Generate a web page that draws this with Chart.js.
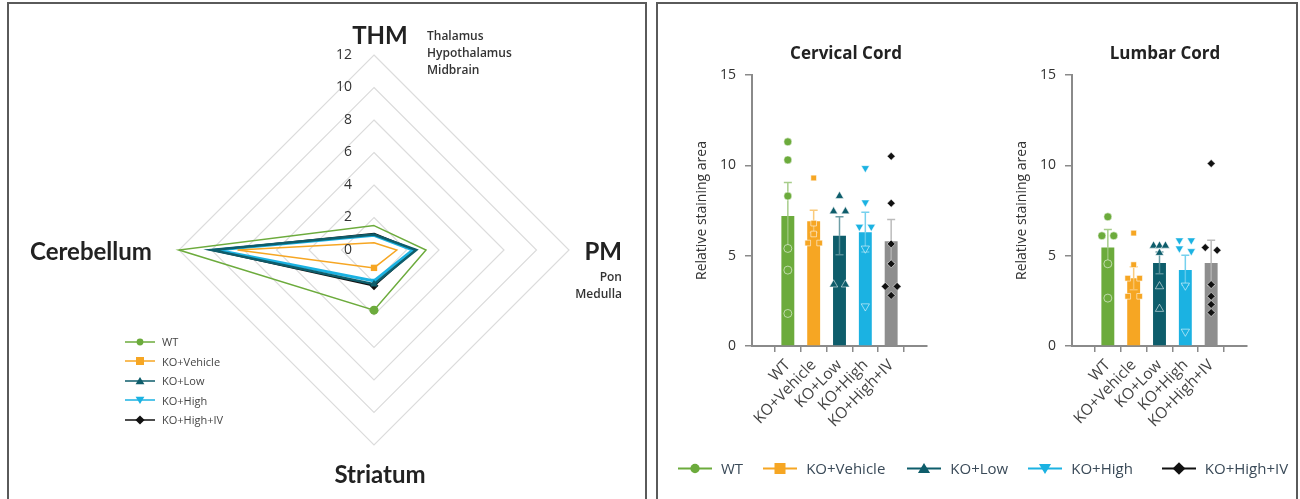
<!DOCTYPE html>
<html>
<head>
<meta charset="utf-8">
<script src="https://cdn.jsdelivr.net/npm/chart.js@4.4.1/dist/chart.umd.min.js"></script>
<style>
  body { margin: 0; width: 1300px; height: 499px; overflow: hidden; background: #fff; position: relative; font-family: 'Open Sans', sans-serif; }
  .panel { position: absolute; top: 2px; height: 530px; border: 2px solid #5a5a5a; box-sizing: border-box; }
  canvas { position: absolute; }
  .lbl { position: absolute; white-space: nowrap; color: #222; }
  .big { font-family: Lato, sans-serif; font-weight: 700; font-size: 24px; }
  .sub { font-family: 'Open Sans', sans-serif; font-weight: 600; font-size: 12px; line-height: 17px; color: #333; }
  .ttl { font-family: 'Open Sans', sans-serif; font-weight: 700; font-size: 17px; }
  .legend { position: absolute; display: flex; }
  .legend .item { display: flex; align-items: center; }
  .legend svg { display: block; }
</style>
</head>
<body>
<div class="panel" style="left:7px; width:640px;"></div>
<div class="panel" style="left:656px; width:642px;"></div>

<canvas id="radar" width="650" height="499" style="left:0; top:0;"></canvas>
<canvas id="cervical" width="260" height="400" style="left:680px; top:40px;"></canvas>
<canvas id="lumbar" width="260" height="400" style="left:1000px; top:40px;"></canvas>

<div class="lbl big" style="left:380px; top:34px; transform:translate(-50%,-50%);">THM</div>
<div class="lbl sub" style="left:427px; top:27px;">Thalamus<br>Hypothalamus<br>Midbrain</div>
<div class="lbl big" style="left:91px; top:250px; transform:translate(-50%,-50%);">Cerebellum</div>
<div class="lbl big" style="left:622px; top:250px; transform:translate(-100%,-50%);">PM</div>
<div class="lbl sub" style="left:622px; top:268px; transform:translateX(-100%); text-align:right;">Pon<br>Medulla</div>
<div class="lbl big" style="left:380px; top:473px; transform:translate(-50%,-50%);">Striatum</div>

<div class="lbl ttl" style="left:846px; top:52px; transform:translate(-50%,-50%);">Cervical Cord</div>
<div class="lbl ttl" style="left:1165px; top:52px; transform:translate(-50%,-50%);">Lumbar Cord</div>

<div id="radarLegend" class="legend" style="left:125px; top:332px; flex-direction:column;"></div>
<div id="barLegend" class="legend" style="left:678px; top:458px; flex-direction:row;"></div>

<script>
// groups and styles
const groups = ['WT', 'KO+Vehicle', 'KO+Low', 'KO+High', 'KO+High+IV'];
const colors = ['#6cab3c', '#f6a623', '#0e5d6b', '#1bb2e2', '#111111'];
const barColors = ['#6cab3c', '#f6a623', '#0e5d6b', '#1bb2e2', '#8e8e8e'];
const markers = ['circle', 'rect', 'triangle', 'triangle', 'rectRot'];
const markerRot = [0, 0, 0, 180, 0];

// radar: THM, PM, Striatum, Cerebellum
const regions = ['THM', 'PM', 'Striatum', 'Cerebellum'];
const radarWT = [1.5, 3.2, 3.7, 12];
const radarVehicle = [0.45, 1.4, 1.1, 8.4];
const radarLow = [0.95, 2.6, 2.1, 10];
const radarHigh = [0.9, 2.4, 1.9, 9.7];
const radarHighIV = [1.0, 2.5, 2.2, 9.9];
const radarTicks = [0, 2, 4, 6, 8, 10, 12];

// cervical cord
const cervicalMean = [7.2, 6.9, 6.1, 6.3, 5.8];
const cervicalSem = [1.85, 0.62, 1.05, 1.1, 1.2];
const cervicalWT = [11.3, 10.3, 8.3, 5.4, 4.2, 1.8];
const cervicalVehicle = [9.3, 6.8, 6.2, 5.7, 5.7];
const cervicalLow = [8.3, 7.45, 7.45, 3.4, 3.4];
const cervicalHigh = [9.85, 7.95, 6.6, 6.6, 5.4, 2.2];
const cervicalHighIV = [10.5, 7.9, 5.65, 4.55, 3.3, 3.3, 2.8];

// lumbar cord
const lumbarMean = [5.45, 3.75, 4.6, 4.2, 4.6];
const lumbarSem = [1.0, 0.64, 0.6, 0.82, 1.25];
const lumbarWT = [7.15, 6.1, 6.1, 4.55, 2.65];
const lumbarVehicle = [6.25, 4.5, 3.75, 3.75, 2.75, 2.75];
const lumbarLow = [5.55, 5.55, 5.55, 5.15, 3.3, 2.05];
const lumbarHigh = [5.85, 5.85, 5.4, 5.25, 3.35, 0.8];
const lumbarHighIV = [10.1, 5.45, 5.3, 3.4, 2.75, 2.3, 1.85];

const barTicks = [0, 5, 10, 15];

// spread points that sit at about the same height (prism-like scatter)
function swarm(values, center) {
  const sorted = values.slice().sort((a, b) => b - a);
  const clusters = [];
  sorted.forEach(v => {
    const last = clusters[clusters.length - 1];
    if (last && last[last.length - 1] - v < 0.38) last.push(v);
    else clusters.push([v]);
  });
  const pts = [];
  clusters.forEach(c => c.forEach((v, i) => {
    const dx = c.length === 1 ? 0 : -0.23 + 0.46 * i / (c.length - 1);
    pts.push({ x: center + dx, y: v });
  }));
  return pts;
}

const radarTickLabels = {
  id: 'radarTickLabels',
  afterDraw(chart) {
    const r = chart.scales.r, ctx = chart.ctx;
    ctx.save();
    ctx.font = '14px "Open Sans"';
    ctx.fillStyle = '#333';
    ctx.textAlign = 'right';
    ctx.textBaseline = 'middle';
    r.ticks.forEach(t => {
      const p = r.getPointPositionForValue(0, t.value);
      ctx.fillText(String(t.value), p.x - 22, p.y);
    });
    ctx.restore();
  }
};

const errorBars = {
  id: 'errorBars',
  afterDatasetDraw(chart, args, opts) {
    if (args.meta.type !== 'bar') return;
    const ds = chart.data.datasets[args.index];
    const y = chart.scales.y, ctx = chart.ctx;
    args.meta.data.forEach((bar, i) => {
      const top = y.getPixelForValue(ds.data[i].y + opts.sems[i]);
      const low = y.getPixelForValue(ds.data[i].y - opts.sems[i]);
      ctx.save();
      ctx.lineWidth = 1.5;
      ctx.strokeStyle = barColors[i];
      ctx.globalAlpha = 0.6;
      ctx.beginPath();
      ctx.moveTo(bar.x, bar.y); ctx.lineTo(bar.x, top);
      ctx.moveTo(bar.x - 4, top); ctx.lineTo(bar.x + 4, top);
      ctx.stroke();
      ctx.strokeStyle = '#fff';
      ctx.globalAlpha = 0.3;
      ctx.beginPath();
      ctx.moveTo(bar.x, bar.y); ctx.lineTo(bar.x, low);
      ctx.moveTo(bar.x - 4, low); ctx.lineTo(bar.x + 4, low);
      ctx.stroke();
      ctx.restore();
    });
  }
};

// Radar
const radarSeries = [radarWT, radarVehicle, radarLow, radarHigh, radarHighIV];
const radarWidths = [1.5, 1.5, 2.5, 3, 2];
new Chart(document.getElementById('radar'), {
  type: 'radar',
  data: {
    labels: regions,
    datasets: radarSeries.map((vals, i) => ({
      label: groups[i],
      data: vals,
      borderColor: colors[i],
      backgroundColor: colors[i],
      borderWidth: radarWidths[i],
      fill: false,
      pointStyle: markers[i],
      pointRotation: markerRot[i],
      pointBackgroundColor: colors[i],
      pointBorderWidth: 0,
      pointRadius: ctx => ctx.dataIndex === 2 ? 4.5 : 0
    }))
  },
  options: {
    responsive: false,
    animation: false,
    layout: { padding: { left: 179, right: 81, top: 55, bottom: 54 } },
    plugins: { legend: { display: false }, tooltip: { enabled: false } },
    scales: {
      r: {
        min: radarTicks[0],
        max: radarTicks[radarTicks.length - 1],
        ticks: { display: false, stepSize: radarTicks[1] - radarTicks[0] },
        grid: { circular: false, color: '#dcdcdc', lineWidth: 1.2 },
        angleLines: { display: false },
        pointLabels: { display: false }
      }
    }
  },
  plugins: [radarTickLabels]
});

function makeBarChart(id, means, sems, points) {
  new Chart(document.getElementById(id), {
    type: 'bar',
    data: {
      datasets: [
        {
          type: 'bar',
          data: means.map((m, i) => ({ x: i, y: m })),
          backgroundColor: barColors,
          barPercentage: 0.5,
          categoryPercentage: 1,
          order: 2
        },
        ...points.map((vals, i) => ({
          type: 'scatter',
          data: swarm(vals, i),
          pointStyle: markers[i],
          pointRotation: markerRot[i],
          pointBackgroundColor: colors[i],
          pointBorderColor: 'rgba(255,255,255,0.55)',
          pointBorderWidth: 1,
          pointRadius: (i === 2 || i === 3) ? 4.8 : 4,
          order: 1
        }))
      ]
    },
    options: {
      responsive: false,
      animation: false,
      layout: { padding: { top: 35, right: 13, left: 0, bottom: 0 } },
      plugins: {
        legend: { display: false },
        tooltip: { enabled: false },
        errorBars: { sems: sems }
      },
      scales: {
        x: {
          type: 'linear',
          min: -0.71,
          max: groups.length - 1 + 0.71,
          // one tick per group, at the bar centres
          afterBuildTicks: s => { s.ticks = groups.map((g, i) => ({ value: i })); },
          afterFit: s => { s.height = 94; },
          ticks: {
            autoSkip: false,
            minRotation: 46,
            maxRotation: 46,
            padding: 4,
            color: '#444',
            font: { family: 'Open Sans', size: 15.5 },
            callback: v => groups[v]
          },
          grid: { drawOnChartArea: false, drawTicks: true, tickLength: 6, color: '#8a8a8a', lineWidth: 1.5 },
          border: { color: '#8a8a8a', width: 2 }
        },
        y: {
          min: barTicks[0],
          max: barTicks[barTicks.length - 1],
          afterFit: s => { s.width = 72; },
          ticks: {
            stepSize: barTicks[1] - barTicks[0],
            padding: 9,
            color: '#333',
            font: { family: 'Open Sans', size: 14 }
          },
          grid: { drawOnChartArea: false, drawTicks: true, tickLength: 7, color: '#8a8a8a', lineWidth: 1.5 },
          border: { color: '#8a8a8a', width: 2 },
          title: {
            display: true,
            text: 'Relative staining area',
            color: '#333',
            font: { family: 'Open Sans', size: 14 },
            padding: { top: 14, bottom: 0 }
          }
        }
      }
    },
    plugins: [errorBars]
  });
}

makeBarChart('cervical', cervicalMean, cervicalSem,
  [cervicalWT, cervicalVehicle, cervicalLow, cervicalHigh, cervicalHighIV]);
makeBarChart('lumbar', lumbarMean, lumbarSem,
  [lumbarWT, lumbarVehicle, lumbarLow, lumbarHigh, lumbarHighIV]);

// legends (line + marker, like the figure)
function markerSvg(i, w, size, lw) {
  const h = size + 4, cx = w / 2, cy = h / 2, r = size / 2;
  let shape;
  if (markers[i] === 'circle') shape = `<circle cx="${cx}" cy="${cy}" r="${r * 0.85}" fill="${colors[i]}"/>`;
  else if (markers[i] === 'rect') shape = `<rect x="${cx - r}" y="${cy - r}" width="${2 * r}" height="${2 * r}" fill="${colors[i]}"/>`;
  else if (markers[i] === 'rectRot') shape = `<polygon points="${cx},${cy - r * 1.15} ${cx + r * 1.15},${cy} ${cx},${cy + r * 1.15} ${cx - r * 1.15},${cy}" fill="${colors[i]}"/>`;
  else {
    const s = markerRot[i] === 180 ? -1 : 1;
    shape = `<polygon points="${cx},${cy - s * r} ${cx + r * 1.1},${cy + s * r * 0.8} ${cx - r * 1.1},${cy + s * r * 0.8}" fill="${colors[i]}"/>`;
  }
  return `<svg width="${w}" height="${h}"><line x1="0" y1="${cy}" x2="${w}" y2="${cy}" stroke="${colors[i]}" stroke-width="${lw}"/>${shape}</svg>`;
}

document.getElementById('radarLegend').innerHTML = groups.map((g, i) =>
  `<div class="item" style="height:19.5px;">${markerSvg(i, 30, 8, 1.5)}<span style="margin-left:7px; font-size:11px; color:#444;">${g}</span></div>`
).join('');

const legendGaps = [20, 22, 20, 29, 0];
document.getElementById('barLegend').innerHTML = groups.map((g, i) =>
  `<div class="item" style="height:20px; margin-right:${legendGaps[i]}px;">${markerSvg(i, 34, 11, 2.2)}<span style="margin-left:9px; font-size:15px; color:#3a4a58;">${g}</span></div>`
).join('');
</script>
</body>
</html>
